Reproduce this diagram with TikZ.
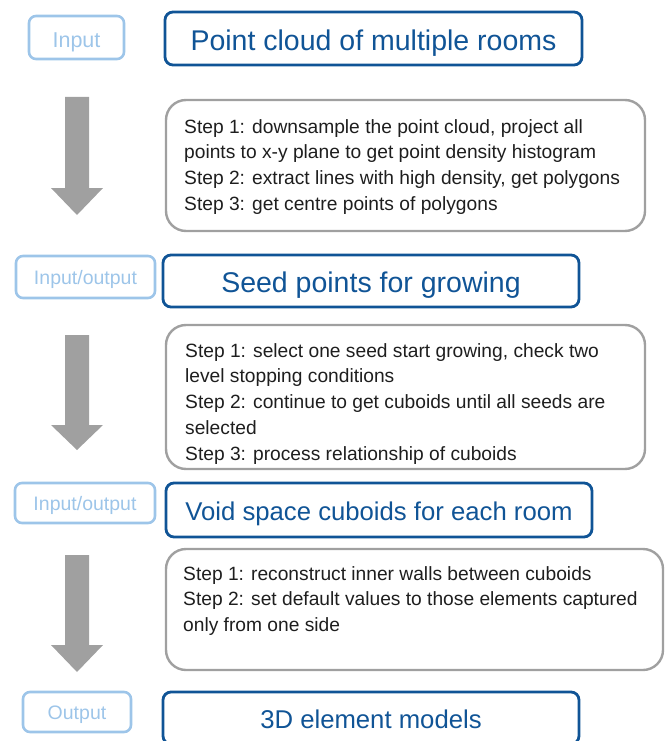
\documentclass[tikz,border=0pt]{standalone}
\usepackage{fontspec}
\setmainfont{Liberation Sans}
\definecolor{darkblue}{RGB}{16,84,150}
\definecolor{lightblue}{RGB}{157,197,233}
\definecolor{boxgray}{RGB}{160,160,160}
\definecolor{arrowgray}{RGB}{160,160,160}
\definecolor{txt}{RGB}{30,30,30}
\newcommand{\blockarrow}[3]{%
  \fill[arrowgray] (65,#1) -- (89,#1) -- (89,#2) -- (103,#2) -- (77,#3) -- (51,#2) -- (65,#2) -- cycle;}
\begin{document}
\begin{tikzpicture}[x=1pt,y=-1pt,
  tagbox/.style={draw=lightblue, line width=2.6pt, rounded corners=7pt, text=lightblue,
    inner sep=0pt, text height=15pt, text depth=0pt, font=\fontsize{19.5}{22}\selectfont},
  titlebox/.style={draw=darkblue, line width=2.8pt, rounded corners=8pt, text=darkblue,
    inner sep=0pt, text depth=0pt},
  bigtitle/.style={titlebox, text height=23.4pt, font=\fontsize{28.5}{32}\selectfont},
  midtitle/.style={titlebox, text height=21.4pt, font=\fontsize{25.7}{29}\selectfont},
  stepbox/.style={draw=boxgray, line width=2.4pt, rounded corners=20pt, inner sep=0pt},
  steptext/.style={inner sep=0pt, align=left, text=txt, anchor=north west,
    font=\fontsize{19.2}{25.8}\selectfont}
]
\useasboundingbox (0,0) rectangle (666,741);

% row 1
\node[tagbox, minimum width=95pt, minimum height=43pt, text height=20.4pt, font=\fontsize{21.5}{24}\selectfont] (in1) at (76.5,37.5) {Input};
\node[bigtitle, minimum width=417pt, minimum height=53pt] (t1) at (373.5,38.5) {Point cloud of multiple rooms};

\blockarrow{97}{188}{215}
\node[stepbox, minimum width=479pt, minimum height=131pt] (s1) at (405.5,165.5) {};
\node[steptext] (s1t) at (184,119) {Step 1: downsample the point cloud, project all\\points to x-y plane to get point density histogram\\Step 2: extract lines with high density, get polygons\\Step 3: get centre points of polygons};

% row 2
\node[tagbox, minimum width=139pt, minimum height=42pt] (io2) at (85.5,277) {Input/output};
\node[bigtitle, minimum width=416pt, minimum height=52pt] (t2) at (371,281) {Seed points for growing};

\blockarrow{335}{425}{450}
\node[stepbox, minimum width=479pt, minimum height=144pt] (s2) at (405.5,397) {};
\node[steptext] (s2t) at (185,343) {Step 1: select one seed start growing, check two\\level stopping conditions\\Step 2: continue to get cuboids until all seeds are\\selected\\Step 3: process relationship of cuboids};

% row 3
\node[tagbox, minimum width=140pt, minimum height=40pt] (io3) at (85,503) {Input/output};
\node[midtitle, minimum width=426pt, minimum height=54pt] (t3) at (379,510) {Void space cuboids for each room};

\blockarrow{555}{645}{672}
\node[stepbox, minimum width=497pt, minimum height=121pt] (s3) at (414.5,609.5) {};
\node[steptext] (s3t) at (183,566) {Step 1: reconstruct inner walls between cuboids\\Step 2: set default values to those elements captured\\only from one side};

% row 4
\node[tagbox, minimum width=108pt, minimum height=40pt] (out) at (77,712) {Output};
\node[midtitle, minimum width=416pt, minimum height=52pt] (t4) at (371,718) {3D element models};
\end{tikzpicture}
\end{document}
